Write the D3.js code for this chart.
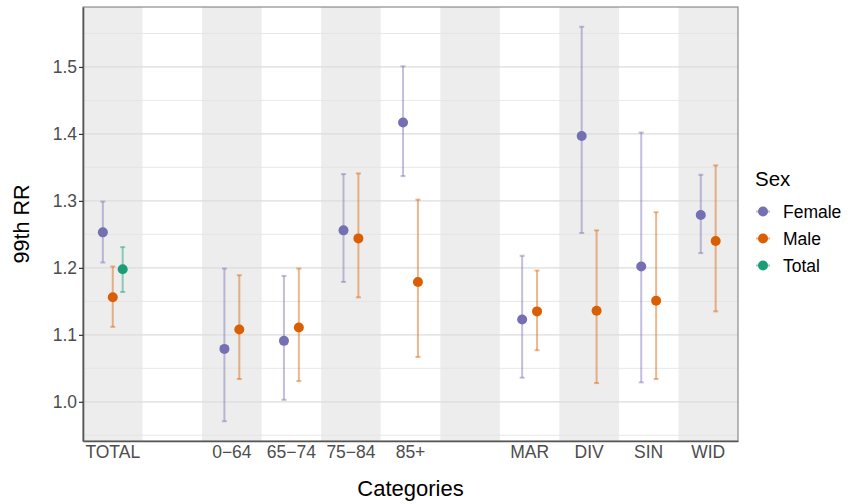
<!DOCTYPE html>
<html>
<head>
<meta charset="utf-8">
<script src="https://cdn.jsdelivr.net/npm/d3@7"></script>
<style>
  body { margin: 0; background: #fff; }
  svg { font-family: "Liberation Sans", Arial, sans-serif; }
</style>
</head>
<body>
<svg class="chart" width="856" height="504"></svg>
<script>
// slots on the x axis, blanks are empty spacers
var slots = ["TOTAL", "gap1", "0−64", "65−74", "75−84", "85+", "gap2", "MAR", "DIV", "SIN", "WID"];
var sexes = ["Female", "Male", "Total"];
var colors = ["#7570B3", "#D95F02", "#1B9E77"];
var yTicks = [1.0, 1.1, 1.2, 1.3, 1.4, 1.5];

// estimates with 99% bounds
var femaleCats = ["TOTAL", "0−64", "65−74", "75−84", "85+", "MAR", "DIV", "SIN", "WID"];
var femaleEst  = [1.253, 1.079, 1.091, 1.256, 1.417, 1.123, 1.397, 1.202, 1.279];
var femaleLo   = [1.208, 0.971, 1.003, 1.179, 1.337, 1.036, 1.252, 1.029, 1.222];
var femaleHi   = [1.299, 1.199, 1.188, 1.340, 1.501, 1.218, 1.560, 1.402, 1.339];

var maleCats = ["TOTAL", "0−64", "65−74", "75−84", "85+", "MAR", "DIV", "SIN", "WID"];
var maleEst  = [1.156, 1.108, 1.111, 1.244, 1.179, 1.135, 1.136, 1.151, 1.240];
var maleLo   = [1.112, 1.034, 1.031, 1.156, 1.067, 1.077, 1.028, 1.034, 1.135];
var maleHi   = [1.202, 1.189, 1.199, 1.341, 1.302, 1.196, 1.256, 1.283, 1.353];

var totalCats = ["TOTAL"];
var totalEst  = [1.198];
var totalLo   = [1.164];
var totalHi   = [1.231];

var svg = d3.select("svg.chart");
var margin = {top: 7, right: 118, bottom: 63, left: 83};
var width = 856 - margin.left - margin.right,
    height = 504 - margin.top - margin.bottom;
var g = svg.append("g").attr("transform", "translate(" + margin.left + "," + margin.top + ")");

var x = d3.scaleBand().domain(slots).range([0, width]).padding(0);
var y = d3.scaleLinear().domain([0.9415, 1.5895]).range([height, 0]);

// gray bands on every other slot
g.selectAll("rect.band")
  .data(slots.filter(function(d, i) { return i % 2 == 0; }))
  .enter().append("rect")
    .attr("class", "band")
    .attr("x", function(d) { return x(d); })
    .attr("y", 0)
    .attr("width", x.bandwidth())
    .attr("height", height)
    .attr("fill", "#EDEDED");

// grid
var minor = d3.range(0.95, 1.58, 0.1);
g.selectAll("line.minor").data(minor).enter().append("line")
  .attr("x1", 0).attr("x2", width)
  .attr("y1", function(d) { return y(d); }).attr("y2", function(d) { return y(d); })
  .attr("stroke", "#E2E2E2").attr("stroke-width", 0.8);
g.selectAll("line.major").data(yTicks).enter().append("line")
  .attr("x1", 0).attr("x2", width)
  .attr("y1", function(d) { return y(d); }).attr("y2", function(d) { return y(d); })
  .attr("stroke", "#DCDCDC").attr("stroke-width", 1.3);

// build rows
function rows(cats, est, lo, hi, sex) {
  return cats.map(function(c, i) { return {cat: c, est: est[i], lo: lo[i], hi: hi[i], sex: sex}; });
}
var data = rows(femaleCats, femaleEst, femaleLo, femaleHi, "Female")
  .concat(rows(maleCats, maleEst, maleLo, maleHi, "Male"))
  .concat(rows(totalCats, totalEst, totalLo, totalHi, "Total"));

var color = d3.scaleOrdinal().domain(sexes).range(colors);
var dodge = x.bandwidth() * 0.5;

// dodge position within each slot
function xpos(d) {
  var group = data.filter(function(e) { return e.cat == d.cat; }).map(function(e) { return e.sex; });
  var n = group.length, k = group.indexOf(d.sex);
  return x(d.cat) + x.bandwidth() / 2 + dodge * ((k + 0.5) / n - 0.5);
}

var bars = g.selectAll("g.bar").data(data).enter().append("g")
  .attr("stroke", function(d) { return color(d.sex); })
  .attr("stroke-opacity", 0.45)
  .attr("stroke-width", 2);
bars.append("line")
  .attr("x1", xpos).attr("x2", xpos)
  .attr("y1", function(d) { return y(d.lo); })
  .attr("y2", function(d) { return y(d.hi); });
bars.append("line")
  .attr("x1", function(d) { return xpos(d) - 2.5; }).attr("x2", function(d) { return xpos(d) + 2.5; })
  .attr("y1", function(d) { return y(d.lo); }).attr("y2", function(d) { return y(d.lo); });
bars.append("line")
  .attr("x1", function(d) { return xpos(d) - 2.5; }).attr("x2", function(d) { return xpos(d) + 2.5; })
  .attr("y1", function(d) { return y(d.hi); }).attr("y2", function(d) { return y(d.hi); });

g.selectAll("circle.pt").data(data).enter().append("circle")
  .attr("cx", xpos)
  .attr("cy", function(d) { return y(d.est); })
  .attr("r", 5)
  .attr("fill", function(d) { return color(d.sex); });

// panel border and axes
g.append("rect").attr("width", width).attr("height", height)
  .attr("fill", "none").attr("stroke", "#777").attr("stroke-width", 1);

var yAxis = g.append("g")
  .call(d3.axisLeft(y).tickValues(yTicks).tickFormat(d3.format(".1f"))
    .tickSize(4).tickSizeOuter(0).tickPadding(2));
var xAxis = g.append("g").attr("transform", "translate(0," + height + ")")
  .call(d3.axisBottom(x).tickSize(0).tickPadding(5)
    .tickFormat(function(d) { return d.indexOf("gap") == 0 ? "" : d; }));
[yAxis, xAxis].forEach(function(a) {
  a.select(".domain").attr("stroke", "#555").attr("stroke-width", 1.6);
  a.selectAll(".tick line").attr("stroke", "#333").attr("stroke-width", 1.2);
  a.selectAll(".tick text").attr("fill", "#4D4D4D").attr("font-size", 17.5)
    .attr("font-family", "Liberation Sans, Arial, sans-serif");
});

// titles
svg.append("text").attr("x", margin.left + width / 2).attr("y", 495.5)
  .attr("text-anchor", "middle").attr("font-size", 22).text("Categories");
svg.append("text").attr("transform", "translate(28.5," + (margin.top + height / 2) + ") rotate(-90)")
  .attr("text-anchor", "middle").attr("font-size", 21.5).text("99th RR");

// legend
var legend = svg.append("g").attr("transform", "translate(755,0)");
legend.append("text").attr("x", 0).attr("y", 186).attr("font-size", 20.5).text("Sex");
var keys = legend.selectAll("g.key").data(sexes).enter().append("g")
  .attr("transform", function(d, i) { return "translate(8," + (211.5 + i * 27) + ")"; });
keys.append("line").attr("x1", -7).attr("x2", 7)
  .attr("stroke", function(d) { return color(d); }).attr("stroke-opacity", 0.45).attr("stroke-width", 2);
keys.append("circle").attr("r", 5).attr("fill", function(d) { return color(d); });
keys.append("text").attr("x", 20).attr("y", 6).attr("font-size", 17.5).text(function(d) { return d; });
</script>
</body>
</html>
